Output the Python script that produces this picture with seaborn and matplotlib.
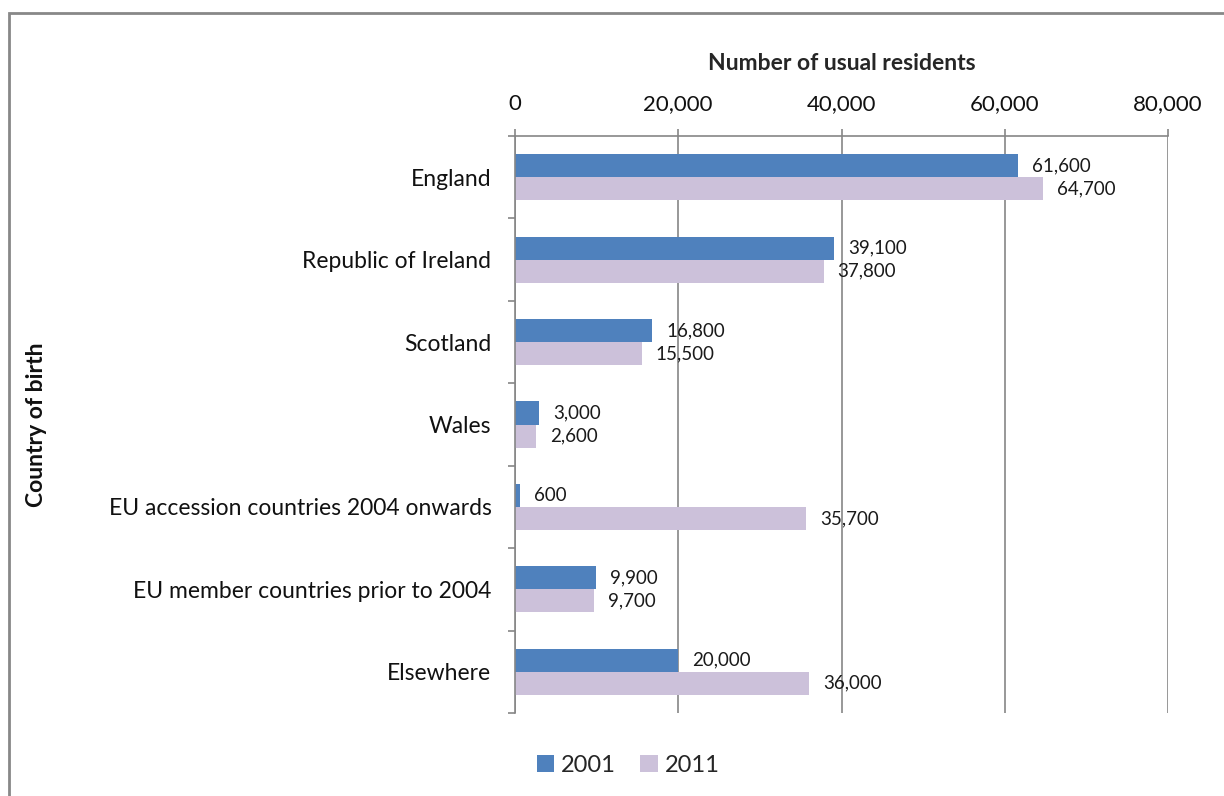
import matplotlib
matplotlib.use("Agg")
import matplotlib.pyplot as plt
import numpy as np
import pandas as pd
import seaborn as sns
from matplotlib.patches import Rectangle
from matplotlib.ticker import FuncFormatter, FixedLocator

countries = [
    "England",
    "Republic of Ireland",
    "Scotland",
    "Wales",
    "EU accession countries 2004 onwards",
    "EU member countries prior to 2004",
    "Elsewhere",
]
years = ["2001", "2011"]
residents_2001 = [61600, 39100, 16800, 3000, 600, 9900, 20000]
residents_2011 = [64700, 37800, 15500, 2600, 35700, 9700, 36000]
colors = ["#4F81BD", "#CCC1DA"]

df = pd.DataFrame(
    {
        "country": countries * 2,
        "year": [years[0]] * len(countries) + [years[1]] * len(countries),
        "residents": residents_2001 + residents_2011,
    }
)

sns.set_theme(style="white")
plt.rcParams["font.family"] = ["Lato", "DejaVu Sans"]
grid_col = "#868686"

fig = plt.figure(figsize=(12.24, 7.96), dpi=100)
ax = fig.add_axes([515 / 1224, 1 - 713 / 796, (1168 - 515) / 1224, (713 - 136) / 796])

sns.barplot(
    data=df,
    y="country",
    x="residents",
    hue="year",
    hue_order=years,
    order=countries,
    orient="h",
    palette=colors,
    width=0.56,
    saturation=1,
    linewidth=0,
    ax=ax,
    legend=True,
)

for cont in ax.containers:
    ax.bar_label(cont, fmt="{:,.0f}", padding=10, fontsize=13.5, color="#1a1a1a")

ax.set_xlim(0, 80000)
ax.set_ylim(len(countries) - 0.5, -0.5)
ax.xaxis.set_major_locator(FixedLocator([0, 20000, 40000, 60000, 80000]))
ax.xaxis.set_major_formatter(FuncFormatter(lambda v, p: f"{v:,.0f}"))
ax.xaxis.tick_top()
ax.xaxis.set_label_position("top")
ax.tick_params(axis="x", which="major", top=True, bottom=False, length=5,
               width=1.2, color=grid_col, labelsize=16, pad=11, labelcolor="#111111")
ax.set_xlabel("Number of usual residents", fontsize=16.5, fontweight="bold", labelpad=17)

ax.set_yticks(range(len(countries)))
ax.set_yticklabels(countries)
ax.set_yticks(np.arange(-0.5, len(countries), 1), minor=True)
ax.tick_params(axis="y", which="major", left=False, labelsize=16.5, pad=11, labelcolor="#111111")
ax.tick_params(axis="y", which="minor", left=True, length=5, width=1.2, color=grid_col)
ax.set_ylabel("Country of birth", fontsize=16.5, fontweight="bold", color="#111111")
ax.yaxis.label.set_fontweight("bold")
ax.yaxis.set_label_coords(-0.717, 0.5)

ax.grid(axis="x", color=grid_col, linewidth=1.2)
ax.set_axisbelow(True)
for side in ["bottom", "right"]:
    ax.spines[side].set_visible(False)
for side in ["top", "left"]:
    ax.spines[side].set_color(grid_col)
    ax.spines[side].set_linewidth(1.2)

leg = ax.legend(
    loc="center",
    bbox_to_anchor=(628 / 1224, 1 - 765 / 796),
    bbox_transform=fig.transFigure,
    ncol=2,
    frameon=False,
    fontsize=17,
    handlelength=0.75,
    handleheight=0.75,
    handletextpad=0.3,
    columnspacing=1.0,
)

fig.patches.append(
    Rectangle((9 / 1224, -0.1), 1.2, 1 - 13 / 796 + 0.1, transform=fig.transFigure,
              fill=False, edgecolor="#888888", linewidth=2)
)

fig.savefig("out.png", dpi=100, facecolor="white")
